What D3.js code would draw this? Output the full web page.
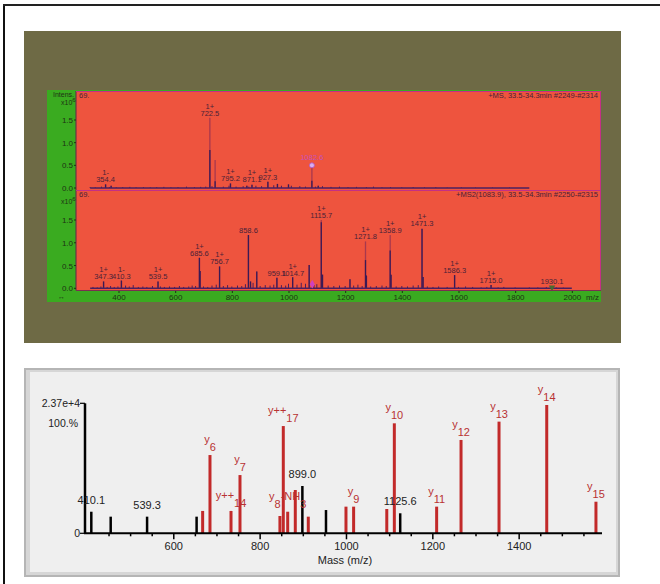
<!DOCTYPE html>
<html>
<head>
<meta charset="utf-8">
<script src="https://cdn.jsdelivr.net/npm/d3@7"></script>
<style>
  body { margin: 0; background: #fff; }
  svg { display: block; }
  text { font-family: "Liberation Sans", Arial, sans-serif; }
</style>
</head>
<body>
<svg id="fig" width="660" height="584"></svg>
<script>
// ---- upper screenshot: MS survey (top trace) and MS2 (bottom trace), intens. x10^6
// peaks: [m/z, profile height, centroid height]
var msPeaks = [[354.4, 0.08, 0.08], [374, 0.05, 0.05], [722.5, 1.55, 0.84], [741, 0.62, 0.15],
  [795.2, 0.1, 0.1], [853, 0.05, 0.05], [871.1, 0.07, 0.07], [927.3, 0.14, 0.14],
  [961, 0.09, 0.09], [1000, 0.08, 0.08], [1082.6, 0.5, 0.16], [1105, 0.05, 0.05]];
var msNoise = [[300, .02], [318, .015], [340, .03], [368, .02], [392, .015], [415, .02], [440, .025],
  [462, .015], [488, .02], [512, .015], [535, .02], [560, .025], [585, .015], [610, .02], [640, .03],
  [668, .02], [690, .025], [708, .03], [730, .04], [770, .03], [790, .05], [815, .03], [840, .04],
  [860, .03], [885, .05], [905, .04], [948, .06], [975, .05], [1010, .05], [1040, .04], [1060, .03],
  [1095, .03], [1120, .04], [1150, .025], [1180, .03], [1210, .02], [1240, .025], [1275, .02],
  [1300, .03], [1330, .015], [1360, .02], [1400, .015], [1440, .02], [1480, .015], [1520, .02],
  [1560, .01], [1610, .015], [1660, .01], [1720, .01], [1780, .01]];
// labels: [m/z, charge, text, height]
var msLabels = [[354.4, "1-", "354.4", 0.08], [722.5, "1+", "722.5", 1.55], [795.2, "1+", "795.2", 0.1],
  [871.1, "1+", "871.1", 0.08], [927.3, "1+", "927.3", 0.14]];
var msPrecursor = [1082.6, 0.5, "1082.6"];

var ms2Peaks = [[347.3, 0.15, 0.15], [410.3, 0.17, 0.17], [539.5, 0.15, 0.15], [685.6, 0.67, 0.67],
  [688, 0.38, 0.38], [756.7, 0.48, 0.48], [858.6, 1.17, 1.17], [866, 0.15, 0.15], [888, 0.37, 0.37],
  [959.1, 0.23, 0.23], [1014.7, 0.24, 0.24], [1073, 0.51, 0.51], [1115.7, 1.5, 1.45], [1120, 0.3, 0.3],
  [1217, 0.2, 0.2], [1271.8, 1.03, 0.62], [1275, 0.28, 0.28], [1358.9, 1.17, 0.83], [1362, 0.3, 0.3],
  [1471.3, 1.32, 1.3], [1475, 0.25, 0.25], [1586.3, 0.29, 0.29], [1715, 0.07, 0.07], [1930.1, 0.04, 0.04]];
var ms2Noise = [[310, .03], [325, .02], [338, .04], [360, .03], [372, .05], [385, .03], [398, .04],
  [425, .06], [438, .04], [452, .07], [470, .03], [486, .04], [500, .03], [520, .05], [548, .04],
  [562, .03], [580, .04], [598, .03], [615, .05], [630, .03], [648, .04], [660, .06], [672, .05],
  [700, .04], [715, .03], [730, .06], [745, .08], [770, .05], [785, .07], [800, .04], [820, .06],
  [835, .05], [848, .09], [875, .12], [900, .05], [918, .07], [935, .06], [948, .08], [975, .07],
  [990, .06], [1000, .1], [1030, .08], [1045, .12], [1060, .1], [1090, .07], [1100, .09], [1140, .06],
  [1160, .05], [1180, .06], [1200, .05], [1230, .06], [1245, .08], [1260, .05], [1290, .04],
  [1310, .05], [1330, .06], [1345, .05], [1380, .04], [1400, .05], [1420, .04], [1440, .06],
  [1458, .07], [1490, .04], [1510, .03], [1530, .04], [1560, .03], [1600, .03], [1625, .04],
  [1650, .03], [1680, .02], [1700, .03], [1740, .02], [1760, .03], [1800, .02], [1850, .02],
  [1880, .02], [1910, .03], [1945, .02], [1970, .015]];
var ms2Labels = [[347.3, "1+", "347.3", 0.15], [410.3, "1-", "410.3", 0.17], [539.5, "1+", "539.5", 0.15],
  [685.6, "1+", "685.6", 0.67], [756.7, "1+", "756.7", 0.48], [858.6, "", "858.6", 1.17],
  [959.1, "", "959.1", 0.23], [1014.7, "1+", "1014.7", 0.23], [1115.7, "1+", "1115.7", 1.5],
  [1271.8, "1+", "1271.8", 1.03], [1358.9, "1+", "1358.9", 1.17], [1471.3, "1+", "1471.3", 1.32],
  [1586.3, "1+", "1586.3", 0.29], [1715, "1+", "1715.0", 0.07], [1930.1, "", "1930.1", 0.04]];
var ms2Precursor = [1083.9, 0.09];

var msTicks = [400, 600, 800, 1000, 1200, 1400, 1600, 1800, 2000];
var intensTicks = [0, 0.5, 1.0, 1.5];

// ---- lower plot: annotated MS2 fragment spectrum, % of 2.37e+4
var fragMz = [410.1, 455, 539.3, 654, 668, 685, 733.7, 754.5, 847, 854.8, 865, 882.6, 899.0, 912.7,
  953.7, 1000, 1017.7, 1094.5, 1112, 1125.6, 1210, 1266.5, 1354.5, 1465, 1579];
var fragPct = [16.6, 12.8, 12.8, 12.8, 17.2, 60.2, 17.2, 44.8, 13.3, 82.5, 16.6, 33.3, 36.4, 12.8,
  17.9, 20.5, 20.5, 18.7, 84.6, 15.4, 20.5, 71.8, 85.9, 98.7, 24.3];
var fragIon = [false, false, false, false, true, true, true, true, true, true, true, true, false, true,
  false, true, true, true, true, false, true, true, true, true, true];
var fragName = ["410.1", "", "539.3", "", "", "y6", "y++14", "y7", "", "y++17", "y8-NH3", "", "899.0", "",
  "", "", "y9", "", "y10", "1125.6", "y11", "y12", "y13", "y14", "y15"];
var fragTicks = [600, 800, 1000, 1200, 1400];

var svg = d3.select("#fig");

// page frame
svg.append("rect").attr("x", 3).attr("y", 4).attr("width", 2).attr("height", 580).attr("fill", "#111");
svg.append("rect").attr("x", 3).attr("y", 4).attr("width", 657).attr("height", 2).attr("fill", "#222");

// screenshot background
svg.append("rect").attr("x", 24).attr("y", 31).attr("width", 597).attr("height", 312).attr("fill", "#6e6a45");
svg.append("rect").attr("x", 47).attr("y", 90).attr("width", 554).attr("height", 212).attr("fill", "#3aab20");
svg.append("rect").attr("x", 76).attr("y", 91).attr("width", 525).attr("height", 200).attr("fill", "#ee543e");

var xMs = d3.scaleLinear().domain([250, 2103]).range([76, 601]);
var yTop = d3.scaleLinear().domain([0, 1.5]).range([188, 120]);
var yBot = d3.scaleLinear().domain([0, 1.5]).range([288.3, 220]);

var ink = "#4a2238";

function drawTrace(y, peaks, noise, labels, baseEnd, title, top) {
  var g = svg.append("g");
  g.selectAll(".noise").data(noise).enter().append("line")
    .attr("x1", function (d) { return xMs(d[0]); })
    .attr("x2", function (d) { return xMs(d[0]); })
    .attr("y1", y(0)).attr("y2", function (d) { return y(d[1]); })
    .attr("stroke", "#4a1f5c").attr("stroke-width", 1);
  g.selectAll(".prof").data(peaks).enter().append("line")
    .attr("x1", function (d) { return xMs(d[0]); })
    .attr("x2", function (d) { return xMs(d[0]); })
    .attr("y1", y(0)).attr("y2", function (d) { return y(d[1]); })
    .attr("stroke", "#a8384e").attr("stroke-width", 1.3);
  g.selectAll(".cent").data(peaks).enter().append("line")
    .attr("x1", function (d) { return xMs(d[0]); })
    .attr("x2", function (d) { return xMs(d[0]); })
    .attr("y1", y(0)).attr("y2", function (d) { return y(d[2]); })
    .attr("stroke", "#3a1a55").attr("stroke-width", 1.3);
  g.append("line").attr("x1", xMs(300)).attr("x2", xMs(baseEnd))
    .attr("y1", y(0)).attr("y2", y(0)).attr("stroke", "#4a2060").attr("stroke-width", 1.4);

  var lab = g.selectAll(".lab").data(labels).enter().append("g");
  lab.append("text").attr("x", function (d) { return xMs(d[0]); })
    .attr("y", function (d) { return y(d[3]) - 9; })
    .attr("text-anchor", "middle").attr("font-size", 7.5).attr("fill", ink)
    .text(function (d) { return d[1]; });
  lab.append("text").attr("x", function (d) { return xMs(d[0]); })
    .attr("y", function (d) { return y(d[3]) - 2; })
    .attr("text-anchor", "middle").attr("font-size", 7.5).attr("fill", ink)
    .text(function (d) { return d[2]; });

  // y axis
  g.append("line").attr("x1", 76).attr("x2", 76).attr("y1", top).attr("y2", y(0) + 2)
    .attr("stroke", "#5a2848").attr("stroke-width", 1);
  g.selectAll(".yt").data(intensTicks).enter().append("text")
    .attr("x", 73).attr("y", function (d) { return y(d) + 3; })
    .attr("text-anchor", "end").attr("font-size", 8).attr("fill", "#1e3314")
    .text(function (d) { return d.toFixed(1); });
  g.selectAll(".ytk").data(intensTicks).enter().append("line")
    .attr("x1", 74).attr("x2", 76).attr("y1", function (d) { return y(d); }).attr("y2", function (d) { return y(d); })
    .attr("stroke", "#1e3314");
  g.append("text").attr("x", 79).attr("y", top + 7).attr("font-size", 7.5).attr("fill", ink).text("69.");
  g.append("text").attr("x", 598).attr("y", top + 7).attr("text-anchor", "end")
    .attr("font-size", 7.5).attr("fill", ink).text(title);
  var ex = g.append("text").attr("x", 61).attr("y", top + 14).attr("font-size", 7).attr("fill", "#1e3314");
  ex.append("tspan").text("x10");
  ex.append("tspan").attr("dy", -3).attr("font-size", 6).text("6");
}

drawTrace(yTop, msPeaks, msNoise, msLabels, 1850, "+MS, 33.5-34.3min #2249-#2314", 91);
drawTrace(yBot, ms2Peaks, ms2Noise, ms2Labels, 2000, "+MS2(1083.9), 33.5-34.3min #2250-#2315", 190);

svg.append("text").attr("x", 74).attr("y", 97).attr("text-anchor", "end")
  .attr("font-size", 7).attr("fill", "#1e3314").text("Intens.");

// precursor markers
svg.append("text").attr("x", xMs(msPrecursor[0])).attr("y", yTop(msPrecursor[1]) - 5)
  .attr("text-anchor", "middle").attr("font-size", 7.5).attr("fill", "#c850b8").text(msPrecursor[2]);
svg.append("circle").attr("cx", xMs(msPrecursor[0])).attr("cy", yTop(msPrecursor[1])).attr("r", 2.5)
  .attr("fill", "#d8b0ee").attr("stroke", "#b050c0").attr("stroke-width", 0.8);
svg.append("path").attr("d", d3.symbol(d3.symbolDiamond, 22)())
  .attr("transform", "translate(" + xMs(ms2Precursor[0]) + "," + yBot(ms2Precursor[1]) + ")")
  .attr("fill", "#d040c0");
svg.append("path").attr("d", d3.symbol(d3.symbolTriangle, 18)())
  .attr("transform", "translate(" + xMs(1930.1) + "," + (yBot(0.04) + 1) + ") rotate(180)")
  .attr("fill", "#4a6a30");

// panel borders
svg.append("line").attr("x1", 76).attr("x2", 601).attr("y1", 91.5).attr("y2", 91.5).attr("stroke", "#c42f86");
svg.append("line").attr("x1", 76).attr("x2", 601).attr("y1", 190.5).attr("y2", 190.5).attr("stroke", "#c42f86");
svg.append("line").attr("x1", 600.5).attr("x2", 600.5).attr("y1", 91).attr("y2", 291).attr("stroke", "#c42f86");
svg.append("line").attr("x1", 76).attr("x2", 601).attr("y1", 290.5).attr("y2", 290.5).attr("stroke", "#7a3050");

// m/z axis of screenshot
var axMs = svg.append("g").attr("transform", "translate(0,291)")
  .call(d3.axisBottom(xMs).tickValues(msTicks).tickSize(2).tickFormat(d3.format("d")));
axMs.select(".domain").remove();
axMs.selectAll("line").attr("stroke", "#1e3314");
axMs.selectAll("text").attr("font-size", 8).attr("fill", "#1e3314").attr("dy", "0.55em")
  .style("font-family", "'Liberation Sans', Arial, sans-serif");
svg.append("text").attr("x", 586).attr("y", 300).attr("font-size", 8).attr("fill", "#1e3314").text("m/z");
svg.append("text").attr("x", 58).attr("y", 299).attr("font-size", 7).attr("fill", "#1e3314").text("\u2194");

// ---- lower plot
svg.append("rect").attr("x", 24).attr("y", 368).attr("width", 596).attr("height", 209).attr("fill", "#b5b5b5");
svg.append("rect").attr("x", 26).attr("y", 370).attr("width", 592).attr("height", 205).attr("fill", "#d6d6d6");
svg.append("rect").attr("x", 30).attr("y", 372).attr("width", 586).attr("height", 200).attr("fill", "#efefef");

var xF = d3.scaleLinear().domain([395.5, 1590.7]).range([85, 601]);
var yF = d3.scaleLinear().domain([0, 100]).range([533.3, 403.3]);

var frag = fragMz.map(function (m, i) {
  return { mz: m, pct: fragPct[i], ion: fragIon[i], name: fragName[i] };
});

svg.selectAll(".bar").data(frag).enter().append("line")
  .attr("x1", function (d) { return xF(d.mz); })
  .attr("x2", function (d) { return xF(d.mz); })
  .attr("y1", yF(0)).attr("y2", function (d) { return yF(d.pct); })
  .attr("stroke", function (d) { return d.ion ? "#c22a2a" : "#000"; })
  .attr("stroke-width", function (d) { return d.ion ? 3 : 2.5; });

// x axis with minor ticks every 50
var minor = d3.range(450, 1590, 50).filter(function (v) { return fragTicks.indexOf(v) < 0; });
var axMinor = svg.append("g").attr("transform", "translate(0," + yF(0) + ")")
  .call(d3.axisBottom(xF).tickValues(minor).tickSize(3).tickFormat(""));
axMinor.select(".domain").remove();
axMinor.selectAll("line").attr("stroke", "#000").attr("stroke-width", 1.5);
var axF = svg.append("g").attr("transform", "translate(0," + yF(0) + ")")
  .call(d3.axisBottom(xF).tickValues(fragTicks).tickSize(6).tickPadding(3).tickFormat(d3.format("d")));
axF.select(".domain").remove();
axF.selectAll("line").attr("stroke", "#000").attr("stroke-width", 1.5);
axF.selectAll("text").attr("font-size", 11).attr("fill", "#222")
  .style("font-family", "'Liberation Sans', Arial, sans-serif");
svg.append("line").attr("x1", 84).attr("x2", 602).attr("y1", yF(0)).attr("y2", yF(0))
  .attr("stroke", "#000").attr("stroke-width", 2);
svg.append("line").attr("x1", 85).attr("x2", 85).attr("y1", yF(100)).attr("y2", yF(0))
  .attr("stroke", "#000").attr("stroke-width", 2.5);
[0, 100].forEach(function (v) {
  svg.append("line").attr("x1", 80).attr("x2", 85).attr("y1", yF(v)).attr("y2", yF(v))
    .attr("stroke", "#000").attr("stroke-width", 1.2);
});
svg.append("text").attr("x", 80).attr("y", yF(100) + 4).attr("text-anchor", "end")
  .attr("font-size", 10.5).attr("fill", "#222").text("2.37e+4");
svg.append("text").attr("x", 78).attr("y", yF(100) + 24).attr("text-anchor", "end")
  .attr("font-size", 10.5).attr("fill", "#222").text("100.%");
svg.append("text").attr("x", 80).attr("y", yF(0) + 4).attr("text-anchor", "end")
  .attr("font-size", 10.5).attr("fill", "#222").text("0");
svg.append("text").attr("x", 345).attr("y", 564).attr("text-anchor", "middle")
  .attr("font-size", 11).attr("fill", "#222").text("Mass (m/z)");

// peak annotations
var named = frag.filter(function (d) { return d.name !== ""; });
named.forEach(function (d) {
  var t = svg.append("text").attr("x", xF(d.mz)).attr("font-size", 11).attr("text-anchor", "middle");
  if (!d.ion) {
    t.attr("y", yF(d.pct) - 8).attr("fill", "#222").text(d.name);
    return;
  }
  t.attr("y", yF(d.pct) - 12).attr("fill", "#b83232");
  var parts = d.name.split(/(\d+)/).filter(function (s) { return s !== ""; });
  var low = false;
  parts.forEach(function (p) {
    var isNum = /^\d+$/.test(p);
    var dy = 0;
    if (isNum && !low) { dy = 8; low = true; }
    else if (!isNum && low) { dy = -8; low = false; }
    t.append("tspan").attr("dy", dy).text(p);
  });
});
</script>
</body>
</html>
